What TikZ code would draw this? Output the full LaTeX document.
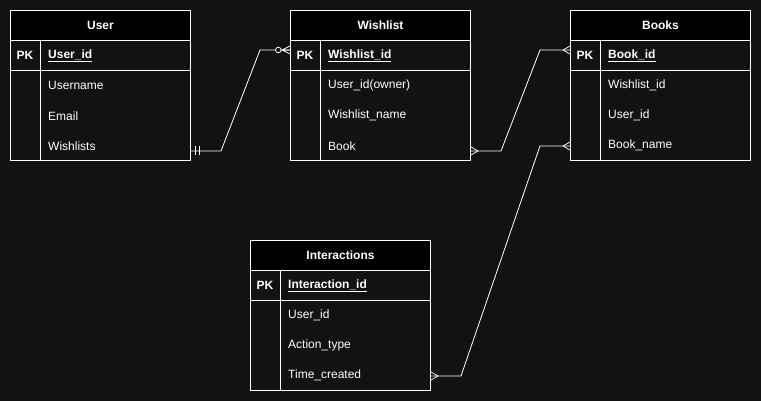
\documentclass[tikz,border=0pt]{standalone}
\usepackage{fontspec}
\setmainfont{Liberation Sans}
\definecolor{bg}{RGB}{18,18,18}
\tikzset{
  tbl/.style={draw=white, line width=1pt},
  hdr/.style={tbl, fill=black, minimum width=180pt, minimum height=30pt, inner sep=0pt, anchor=north west,
    text=white, font=\fontsize{12}{14}\selectfont\bfseries},
  rowbox/.style={tbl, minimum width=180pt, inner sep=0pt, anchor=north west},
  pklab/.style={text=white, font=\fontsize{12}{14}\selectfont\bfseries, inner sep=0pt},
  fld/.style={text=white, font=\fontsize{12}{14}\selectfont, inner sep=0pt, anchor=west},
  conn/.style={draw=white, line width=0.8pt},
  manyR/.pic={\draw[conn] (-7,0) -- (0,4) (-7,0) -- (0,-4);},
  manyL/.pic={\draw[conn] (7,0) -- (0,4) (7,0) -- (0,-4);},
  oneL/.pic={\draw[conn] (4,-4.5) -- (4,4.5) (8,-4.5) -- (8,4.5);},
  zmanyR/.pic={\draw[conn, fill=bg] (-11.7,0) circle (2.8);
               \draw[conn] (-8,0) -- (0,4) (-8,0) -- (0,-4) (-8.9,0) -- (0,0);},
}
\newcommand\ertable[8]{%
  \begin{scope}[shift={(#2,#3)}]
    \node[hdr] (#1-h) at (0,0) {#4};
    \node[rowbox, minimum height=30pt] (#1-pk) at (0,30) {};
    \node[rowbox, minimum height=90pt] (#1-body) at (0,60) {};
    \draw[tbl] (30,30) -- (30,150);
    \node[pklab] (#1-pkl) at (15,45.8) {PK};
    \node[fld] (#1-k) at (38,45.8) {\bfseries\underline{#5}};
    \node[fld] (#1-f1) at (38,75.8) {#6};
    \node[fld] (#1-f2) at (38,105.8) {#7};
    \node[fld] (#1-f3) at (38,135.8) {#8};
  \end{scope}}
\begin{document}
\begin{tikzpicture}[x=1pt, y=-1pt]
  \fill[bg] (0,0) rectangle (761,401);
  \useasboundingbox (0,0) rectangle (761,401);

  \ertable{user}{10}{10}{User}{User\_id}{Username}{Email}{Wishlists}
  \ertable{wish}{290}{10}{Wishlist}{Wishlist\_id}{User\_id(owner)}{Wishlist\_name}{Book}
  \ertable{books}{570}{10}{Books}{Book\_id}{Wishlist\_id}{User\_id}{Book\_name}
  \ertable{inter}{250}{240}{Interactions}{Interaction\_id}{User\_id}{Action\_type}{Time\_created}

  % connection points
  \coordinate (c1a) at ([yshift=10pt]user-body.south east);
  \coordinate (c1b) at ([yshift=-10pt]wish-pk.north west);
  \coordinate (c2a) at ([yshift=10pt]wish-body.south east);
  \coordinate (c2b) at ([yshift=-10pt]books-pk.north west);
  \coordinate (c3a) at ([yshift=15pt]inter-body.south east);
  \coordinate (c3b) at ([yshift=15pt]books-body.south west);

  \draw[conn] (c1a) -- ++(30,0) -- ([xshift=-30pt]c1b) -- (c1b);
  \draw[conn] (c2a) -- ++(30,0) -- ([xshift=-30pt]c2b) -- (c2b);
  \draw[conn] (c3a) -- ++(30,0) -- ([xshift=-30pt]c3b) -- (c3b);

  \pic at (c1a) {oneL};
  \pic at (c1b) {zmanyR};
  \pic at (c2a) {manyL};
  \pic at (c2b) {manyR};
  \pic at (c3a) {manyL};
  \pic at (c3b) {manyR};
\end{tikzpicture}
\end{document}
